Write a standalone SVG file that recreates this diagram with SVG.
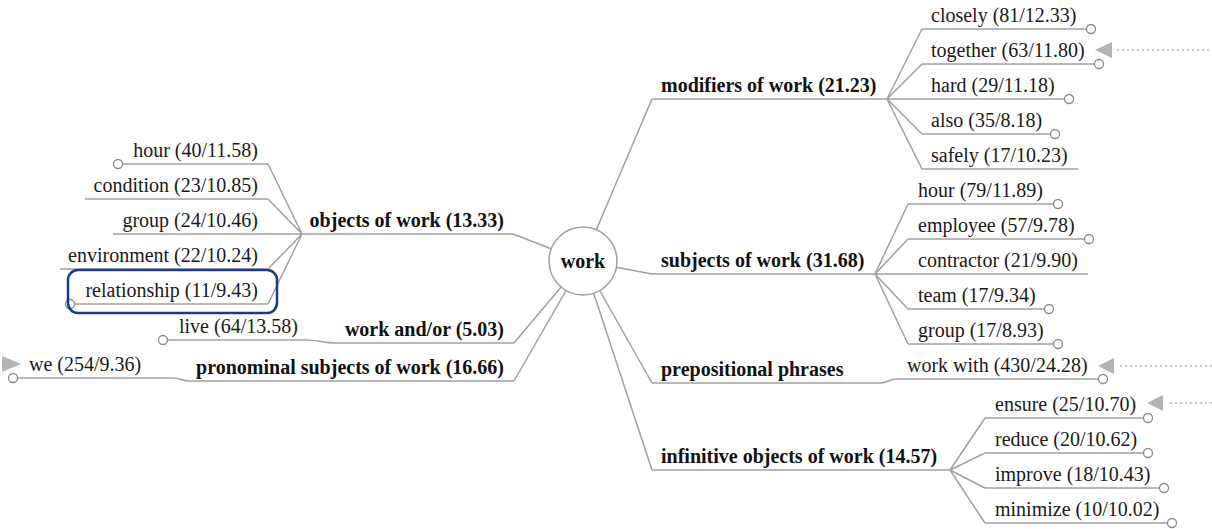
<svg xmlns="http://www.w3.org/2000/svg" width="1212" height="529" viewBox="0 0 1212 529">
<style>
.lnk{fill:none;stroke:#a0a0a0;stroke-width:1.5}
.dot{fill:#fff;stroke:#8a8a8a;stroke-width:1.3}
.t{font-family:"Liberation Serif","Times New Roman",serif;font-size:20px;fill:#1a1a1a}
.b{font-weight:bold;fill:#111}
.e{text-anchor:end}
.m{text-anchor:middle}
.arr{fill:#b4b4b4}
.dash{fill:none;stroke:#b4b4b4;stroke-width:1.5;stroke-dasharray:2 3}
</style>
<rect width="1212" height="529" fill="#fff"/>
<g id="connectors">
<path class="lnk" d="M583,261 L513,234 M583,261 L514,343 M583,261 L514,381 M583,261 L652,99 M583,261 L652,274 M583,261 L652,383 M583,261 L652,470"/>
<path class="lnk" d="M302,234 L268,164 M302,234 L268,199 M302,234 L268,234 M302,234 L268,269 M302,234 L268,304"/>
<path class="lnk" d="M887,99 L922,29 M887,99 L922,64 M887,99 L922,99 M887,99 L922,134 M887,99 L922,169"/>
<path class="lnk" d="M875,274 L908,204 M875,274 L908,239 M875,274 L908,274 M875,274 L908,309 M875,274 L908,344"/>
<path class="lnk" d="M950,470 L985,418 M950,470 L985,453 M950,470 L985,488 M950,470 L985,523"/>
<path class="lnk" d="M880,383 C889,383 888,379 897,379"/>
<path class="lnk" d="M337,343 C321,343 321,340 305,340"/>
<path class="lnk" d="M190,381 C181,381 181,378 172,378"/>
</g>
<g id="root">
<circle cx="583" cy="261" r="34" fill="#fff" stroke="#a0a0a0" stroke-width="1.5"/>
<text class="t b m" x="583" y="268">work</text>
</g>
<g id="objects">
<path class="lnk" d="M302,234 H513"/>
<text class="t b e" x="504" y="227">objects of work (13.33)</text>
</g>
<g id="obj-hour"><path class="lnk" d="M118,164 H268"/><circle class="dot" cx="118" cy="164" r="4.5"/><text class="t e" x="258" y="157">hour (40/11.58)</text></g>
<g id="obj-condition"><path class="lnk" d="M85,199 H268"/><text class="t e" x="258" y="192">condition (23/10.85)</text></g>
<g id="obj-group"><path class="lnk" d="M113,234 H268"/><text class="t e" x="258" y="227">group (24/10.46)</text></g>
<g id="obj-environment"><path class="lnk" d="M60,269 H268"/><text class="t e" x="258" y="262">environment (22/10.24)</text></g>
<g id="obj-relationship"><path class="lnk" d="M70,304 H268"/><circle class="dot" cx="70" cy="304" r="4.5"/><text class="t e" x="258" y="297">relationship (11/9.43)</text>
<rect x="68" y="270" width="209" height="43" rx="10" fill="none" stroke="#1c3a8c" stroke-width="2.5"/></g>
<g id="andor">
<path class="lnk" d="M337,343 H514"/>
<text class="t b e" x="504" y="336">work and/or (5.03)</text>
</g>
<g id="andor-live"><path class="lnk" d="M163,340 H305"/><circle class="dot" cx="163" cy="340" r="4.5"/><text class="t" x="179" y="333">live (64/13.58)</text></g>
<g id="pronominal">
<path class="lnk" d="M190,381 H514"/>
<text class="t b e" x="504" y="374">pronominal subjects of work (16.66)</text>
</g>
<g id="pron-we"><path class="lnk" d="M13,378 H172"/><circle class="dot" cx="13" cy="378" r="4.5"/><polygon class="arr" points="2,356 21,364 2,372"/><text class="t" x="29" y="371">we (254/9.36)</text></g>
<g id="modifiers">
<path class="lnk" d="M652,99 H887"/>
<text class="t b" x="661" y="92">modifiers of work (21.23)</text>
</g>
<g id="mod-closely"><path class="lnk" d="M922,29 H1091"/><circle class="dot" cx="1091" cy="29" r="4.5"/><text class="t" x="931" y="22">closely (81/12.33)</text></g>
<g id="mod-together"><path class="lnk" d="M922,64 H1099"/><circle class="dot" cx="1099" cy="64" r="4.5"/><text class="t" x="931" y="57">together (63/11.80)</text><polygon class="arr" points="1095,50 1112,42 1112,58"/><path class="dash" d="M1117,50 H1212"/></g>
<g id="mod-hard"><path class="lnk" d="M922,99 H1069"/><circle class="dot" cx="1069" cy="99" r="4.5"/><text class="t" x="931" y="92">hard (29/11.18)</text></g>
<g id="mod-also"><path class="lnk" d="M922,134 H1055"/><circle class="dot" cx="1055" cy="134" r="4.5"/><text class="t" x="931" y="127">also (35/8.18)</text></g>
<g id="mod-safely"><path class="lnk" d="M922,169 H1078"/><text class="t" x="931" y="162">safely (17/10.23)</text></g>
<g id="subjects">
<path class="lnk" d="M652,274 H875"/>
<text class="t b" x="661" y="267">subjects of work (31.68)</text>
</g>
<g id="sub-hour"><path class="lnk" d="M908,204 H1058"/><circle class="dot" cx="1058" cy="204" r="4.5"/><text class="t" x="918" y="197">hour (79/11.89)</text></g>
<g id="sub-employee"><path class="lnk" d="M908,239 H1089"/><circle class="dot" cx="1089" cy="239" r="4.5"/><text class="t" x="918" y="232">employee (57/9.78)</text></g>
<g id="sub-contractor"><path class="lnk" d="M908,274 H1088"/><text class="t" x="918" y="267">contractor (21/9.90)</text></g>
<g id="sub-team"><path class="lnk" d="M908,309 H1049"/><circle class="dot" cx="1049" cy="309" r="4.5"/><text class="t" x="918" y="302">team (17/9.34)</text></g>
<g id="sub-group"><path class="lnk" d="M908,344 H1058"/><circle class="dot" cx="1058" cy="344" r="4.5"/><text class="t" x="918" y="337">group (17/8.93)</text></g>
<g id="prepositional">
<path class="lnk" d="M652,383 H880"/>
<text class="t b" x="661" y="376">prepositional phrases</text>
</g>
<g id="prep-workwith"><path class="lnk" d="M897,379 H1103"/><circle class="dot" cx="1103" cy="379" r="4.5"/><text class="t" x="907" y="372">work with (430/24.28)</text><polygon class="arr" points="1098,366 1114,358 1114,374"/><path class="dash" d="M1120,366 H1212"/></g>
<g id="infinitive">
<path class="lnk" d="M652,470 H950"/>
<text class="t b" x="661" y="463">infinitive objects of work (14.57)</text>
</g>
<g id="inf-ensure"><path class="lnk" d="M985,418 H1148"/><circle class="dot" cx="1148" cy="418" r="4.5"/><text class="t" x="995" y="411">ensure (25/10.70)</text><polygon class="arr" points="1147,403 1163,395 1163,411"/><path class="dash" d="M1170,403 H1212"/></g>
<g id="inf-reduce"><path class="lnk" d="M985,453 H1148"/><circle class="dot" cx="1148" cy="453" r="4.5"/><text class="t" x="995" y="446">reduce (20/10.62)</text></g>
<g id="inf-improve"><path class="lnk" d="M985,488 H1164"/><circle class="dot" cx="1164" cy="488" r="4.5"/><text class="t" x="995" y="481">improve (18/10.43)</text></g>
<g id="inf-minimize"><path class="lnk" d="M985,523 H1172"/><circle class="dot" cx="1172" cy="523" r="4.5"/><text class="t" x="995" y="516">minimize (10/10.02)</text></g>
</svg>
